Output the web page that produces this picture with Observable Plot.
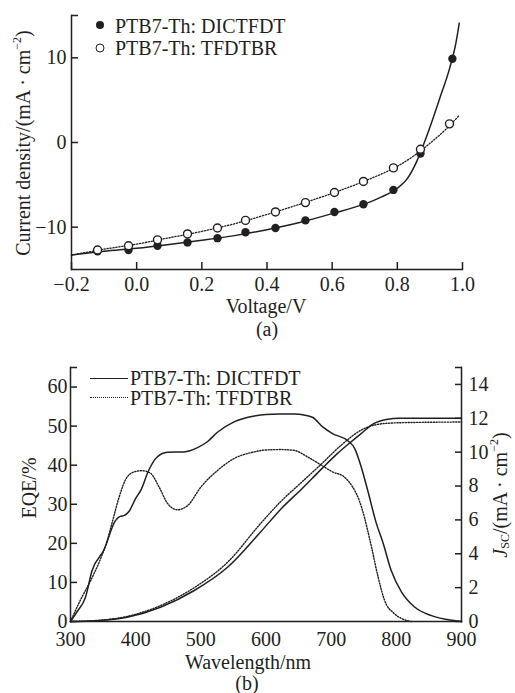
<!DOCTYPE html>
<html><head><meta charset="utf-8">
<script src="https://cdn.jsdelivr.net/npm/d3@7"></script>
<script src="https://cdn.jsdelivr.net/npm/@observablehq/plot@0.6"></script>
<style>
html,body{margin:0;padding:0;background:#fff;}
#fig{position:relative;width:515px;height:693px;overflow:hidden;font-family:'Liberation Serif','Times New Roman',serif;font-size:20px;color:#231f20;}
.panel{position:absolute;left:0;}
.lbl{position:absolute;white-space:nowrap;line-height:1;}
.h{transform:translateX(-50%);}
.v{transform:translate(-50%,-50%) rotate(-90deg);}
.sup{font-size:0.6em;position:relative;top:-0.75em;}
.sub{font-size:0.6em;position:relative;top:0.2em;}
.dotf{position:absolute;width:8px;height:8px;border-radius:50%;background:#231f20;transform:translate(-50%,-50%);}
.doto{position:absolute;width:9px;height:9px;box-sizing:border-box;border-radius:50%;border:1.4px solid #231f20;background:#fff;transform:translate(-50%,-50%);}
.ls{position:absolute;height:0;border-top:1.6px solid #231f20;}
.ld{position:absolute;height:0;border-top:1.4px dotted #231f20;}
</style></head>
<body><div id="fig"></div>
<script>
// ---------- Panel (a): J–V ----------
const vDICT = [-0.12, -0.025, 0.064, 0.156, 0.248, 0.334, 0.426, 0.518, 0.607, 0.696, 0.788, 0.871, 0.969];
const jDICT = [-12.85, -12.7, -12.2, -11.8, -11.3, -10.6, -10.1, -9.2, -8.2, -7.3, -5.6, -1.3, 9.9];
const vTFDT = [-0.12, -0.025, 0.064, 0.156, 0.248, 0.334, 0.426, 0.518, 0.607, 0.696, 0.788, 0.871, 0.96];
const jTFDT = [-12.7, -12.2, -11.5, -10.8, -10.1, -9.2, -8.2, -7.1, -5.9, -4.6, -3.0, -0.8, 2.2];
const fitVDICT = [-0.2, -0.1, 0, 0.1, 0.2, 0.3, 0.4, 0.5, 0.6, 0.7, 0.75, 0.8, 0.83, 0.86, 0.88, 0.9, 0.93, 0.96, 0.98, 0.99];
const fitJDICT = [-13.3, -12.85, -12.5, -12.05, -11.55, -11.0, -10.3, -9.45, -8.4, -7.25, -6.45, -5.4, -4.3, -2.2, -0.3, 1.8, 5.2, 8.7, 11.8, 14.1];
const fitVTFDT = [-0.2, -0.1, 0, 0.1, 0.2, 0.3, 0.4, 0.5, 0.6, 0.7, 0.8, 0.85, 0.9, 0.95, 0.99];
const fitJTFDT = [-13.3, -12.6, -12.0, -11.25, -10.5, -9.6, -8.5, -7.3, -6.0, -4.55, -2.8, -1.6, -0.1, 1.6, 3.2];
const xTicksA = [-0.2, 0.0, 0.2, 0.4, 0.6, 0.8, 1.0];
const yTicksA = [-10, 0, 10];

// ---------- Panel (b): EQE and Jsc ----------
const wlEqeDICT = [300, 310, 323, 333, 351, 369, 376, 382, 390, 400, 408, 420, 433, 449, 474, 495, 510, 526, 551, 582, 600, 620, 643, 660, 672, 687, 702, 726, 736, 746, 756, 769, 780, 792, 808, 828, 854, 885, 900];
const eqeDICT   = [0, 2.5, 6.2, 13, 18.2, 25.8, 26.9, 27.1, 28.2, 31.5, 33.6, 38.7, 42.1, 43.3, 43.4, 44.5, 46, 48.5, 51.1, 52.6, 53, 53.1, 53.1, 52.8, 52.2, 49.8, 48.1, 46.2, 44.3, 39.6, 33.6, 25.3, 19.9, 13.1, 7.5, 3.7, 1.5, 0.3, 0];
const wlEqeTFDT = [300, 315, 331, 346, 356, 365, 374, 387, 400, 410, 423, 436, 449, 464, 480, 500, 526, 551, 582, 600, 623, 643, 664, 685, 702, 720, 733, 743, 751, 756, 762, 772, 782, 797, 810, 823];
const eqeTFDT   = [0, 5.4, 10.5, 16, 20.5, 26, 31.5, 37, 38.4, 38.6, 37.9, 34.4, 30.2, 28.6, 29.7, 34.4, 38.7, 41.7, 43.4, 43.9, 44, 43.8, 42.1, 40, 38.3, 37, 34.4, 31, 26.7, 23.3, 19, 11.4, 5.4, 2, 0.6, 0];
const wlJscDICT = [300, 340, 387, 438, 490, 541, 592, 623, 654, 685, 709, 727, 746, 766, 787, 803, 900];
const jscDICT   = [0, 0.05, 0.25, 0.84, 1.83, 3.2, 5.3, 6.65, 7.8, 9.0, 9.9, 10.5, 11.1, 11.7, 11.95, 12.0, 12.0];
const wlJscTFDT = [300, 340, 387, 438, 490, 541, 592, 623, 654, 685, 715, 746, 766, 792, 820, 900];
const jscTFDT   = [0, 0.06, 0.3, 0.94, 2.0, 3.5, 5.8, 7.1, 8.2, 9.3, 10.4, 11.3, 11.6, 11.72, 11.75, 11.78];
const xTicksB = [300, 400, 500, 600, 700, 800, 900];
const eqeTicks = [0, 10, 20, 30, 40, 50, 60];
const jscTicks = [0, 2, 4, 6, 8, 10, 12, 14];

const C = "#231f20";
const EQE_MAX = 65, JSC_MAX = 15, K = EQE_MAX / JSC_MAX;
const zip = (xs, ys) => xs.map((x, i) => ({x, y: ys[i]}));
const fInt = d3.format("d");
const font = {fontFamily: "'Liberation Serif','Times New Roman',serif", fontSize: "20px", color: C, background: "white"};

const plotA = Plot.plot({
  width: 515, height: 300,
  marginLeft: 71, marginRight: 53, marginTop: 15, marginBottom: 31,
  x: {domain: [-0.2, 1.0]},
  y: {domain: [-15, 15]},
  style: font,
  marks: [
    Plot.frame({anchor: "left", stroke: C, strokeWidth: 1.5}),
    Plot.frame({anchor: "bottom", stroke: C, strokeWidth: 1.5}),
    Plot.axisY({ticks: [...yTicksA, 15], tickSize: -7, tickPadding: 12, strokeWidth: 1.5, tickFormat: d => d === 15 ? "" : fInt(d), label: null}),
    Plot.axisX({ticks: xTicksA, tickSize: -7, tickPadding: 14, strokeWidth: 1.5, tickFormat: d3.format(".1f"), label: null}),
    Plot.line(zip(fitVDICT, fitJDICT), {x: "x", y: "y", curve: "monotone-x", stroke: C, strokeWidth: 1.5}),
    Plot.line(zip(fitVTFDT, fitJTFDT), {x: "x", y: "y", curve: "monotone-x", stroke: C, strokeWidth: 1.3, strokeDasharray: "1.3,1.7"}),
    Plot.dot(zip(vDICT, jDICT), {x: "x", y: "y", r: 4.2, fill: C, stroke: "none"}),
    Plot.dot(zip(vTFDT, jTFDT), {x: "x", y: "y", r: 4, fill: "white", stroke: C, strokeWidth: 1.4})
  ]
});

const plotB = Plot.plot({
  width: 515, height: 312,
  marginLeft: 70, marginRight: 54, marginTop: 27, marginBottom: 31,
  x: {domain: [300, 900]},
  y: {domain: [0, EQE_MAX]},
  style: font,
  marks: [
    Plot.frame({anchor: "left", stroke: C, strokeWidth: 1.5}),
    Plot.frame({anchor: "right", stroke: C, strokeWidth: 1.5}),
    Plot.frame({anchor: "bottom", stroke: C, strokeWidth: 1.5}),
    Plot.axisY({ticks: [...eqeTicks, EQE_MAX], tickSize: -7, tickPadding: 10, strokeWidth: 1.5, tickFormat: d => d === EQE_MAX ? "" : fInt(d), label: null}),
    Plot.axisY({anchor: "right", ticks: [...jscTicks, JSC_MAX].map(j => j * K), tickSize: -7, tickPadding: 14, strokeWidth: 1.5,
      tickFormat: d => { const j = Math.round(d / K); return j === JSC_MAX ? "" : fInt(j); }, label: null}),
    Plot.axisX({ticks: xTicksB, tickSize: 0, tickPadding: 10, tickFormat: fInt, label: null}),
    Plot.line(zip(wlEqeDICT, eqeDICT), {x: "x", y: "y", curve: "monotone-x", stroke: C, strokeWidth: 1.5}),
    Plot.line(zip(wlEqeTFDT, eqeTFDT), {x: "x", y: "y", curve: "monotone-x", stroke: C, strokeWidth: 1.4, strokeDasharray: "1.2,1.6"}),
    Plot.line(zip(wlJscDICT, jscDICT), {x: "x", y: d => d.y * K, curve: "monotone-x", stroke: C, strokeWidth: 1.5}),
    Plot.line(zip(wlJscTFDT, jscTFDT), {x: "x", y: d => d.y * K, curve: "monotone-x", stroke: C, strokeWidth: 1.4, strokeDasharray: "1.2,1.6"})
  ]
});

const fig = document.getElementById("fig");
const pa = document.createElement("div"); pa.className = "panel"; pa.style.top = "0px"; pa.appendChild(plotA); fig.appendChild(pa);
const pb = document.createElement("div"); pb.className = "panel"; pb.style.top = "340px"; pb.appendChild(plotB); fig.appendChild(pb);

const overlay = `
<div class="lbl v" style="left:23px;top:143px">Current density/(mA · cm<span class="sup">−2</span>)</div>
<div class="lbl h" style="left:266px;top:296px">Voltage/V</div>
<div class="lbl h" style="left:267px;top:319px">(a)</div>
<div class="dotf" style="left:100px;top:25px"></div>
<div class="lbl" style="left:115px;top:16px">PTB7-Th: DICTFDT</div>
<div class="doto" style="left:100px;top:48px"></div>
<div class="lbl" style="left:115px;top:38px">PTB7-Th: TFDTBR</div>
<div class="lbl v" style="left:29px;top:488px">EQE/%</div>
<div class="lbl v" style="left:500px;top:495px"><i>J</i><span class="sub">SC</span>/(mA · cm<span class="sup">−2</span>)</div>
<div class="lbl h" style="left:248px;top:652px">Wavelength/nm</div>
<div class="lbl h" style="left:247px;top:673px">(b)</div>
<div class="ls" style="left:90px;top:378px;width:38px"></div>
<div class="lbl" style="left:130px;top:368px">PTB7-Th: DICTFDT</div>
<div class="ld" style="left:90px;top:397px;width:38px"></div>
<div class="lbl" style="left:130px;top:388px">PTB7-Th: TFDTBR</div>
`;
fig.insertAdjacentHTML("beforeend", overlay);
</script>
</body></html>
